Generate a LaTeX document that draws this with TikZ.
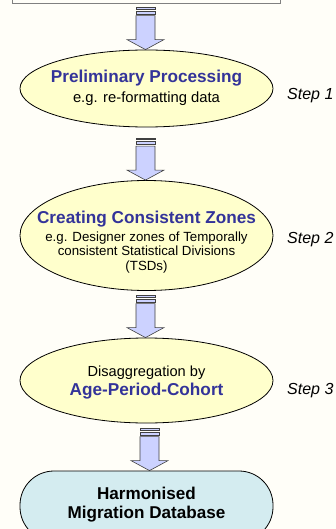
\documentclass[tikz,border=0pt]{standalone}
\usepackage{fontspec}
\setmainfont{Liberation Sans}
\usetikzlibrary{shapes.geometric, calc}
\definecolor{titleblue}{RGB}{51,51,153}
\definecolor{stageyellow}{RGB}{255,255,204}
\definecolor{arrowblue}{RGB}{204,210,255}
\definecolor{dbcyan}{RGB}{212,236,240}
\definecolor{pagecream}{RGB}{255,254,248}

\begin{document}
\begin{tikzpicture}[x=1pt, y=-1pt,
  stage/.style={draw, ellipse, fill=stageyellow, line width=0.8pt, minimum width=253pt, inner sep=0pt},
  srcbox/.style={draw=gray, line width=0.8pt, minimum width=268pt, minimum height=30pt, inner sep=0pt},
  dbbox/.style={draw, fill=dbcyan, line width=0.8pt, rounded corners=34pt, minimum width=253pt, minimum height=70pt, inner sep=0pt},
  title/.style={anchor=base, inner sep=0pt, font=\fontsize{17.2}{20}\selectfont\bfseries, text=titleblue},
  note/.style={anchor=base, inner sep=0pt},
  steplabel/.style={anchor=base west, inner sep=0pt, font=\fontsize{16}{19}\selectfont\itshape},
  arrowline/.style={draw=black!75, fill=arrowblue, line width=0.6pt, line join=miter},
  stripearrow/.pic={
    \draw[arrowline] (-9.5,-42) rectangle (9.5,-40.3);
    \draw[arrowline] (-9.5,-38.7) rectangle (9.5,-35.5);
    \draw[arrowline] (-9.5,-34) -- (-9.5,-10) -- (-18.5,-10) -- (0,0)
      -- (18.5,-10) -- (9.5,-10) -- (9.5,-34) -- cycle;
  },
]
\clip (0,0) rectangle (336,529);
\fill[pagecream] (0,0) rectangle (336,529);

% Source box (cut off at the top)
\node[srcbox] (src) at (146,-12) {};

% Stages
\node[stage, minimum height=77pt] (prep) at (146.5,88.5) {};
\node[stage, minimum height=110pt] (zones) at (146.5,235.5) {};
\node[stage, minimum height=85pt] (apc) at (146.5,380.5) {};
\node[dbbox] (db) at (146.5,506) {};

% Stage texts
\node[title] (prep-title) at (146.5,83) {Preliminary Processing};
\node[note, font=\fontsize{14.8}{17}\selectfont] (prep-note) at (146.5,103) {e.g. re-formatting data};

\node[title] (zones-title) at (146.5,223.3) {Creating Consistent Zones};
\node[note, font=\fontsize{13.3}{15}\selectfont] (zones-note1) at (146.5,241.3) {e.g. Designer zones of Temporally};
\node[note, font=\fontsize{13.3}{15}\selectfont] (zones-note2) at (146.5,255.8) {consistent Statistical Divisions};
\node[note, font=\fontsize{13.3}{15}\selectfont] (zones-note3) at (146.5,270.3) {(TSDs)};

\node[note, font=\fontsize{14.6}{17}\selectfont] (apc-note) at (146.5,376.7) {Disaggregation by};
\node[title] (apc-title) at (146.5,395) {Age-Period-Cohort};

\node[note, font=\fontsize{17.1}{20}\selectfont\bfseries] (db-title1) at (146.5,499) {Harmonised};
\node[note, font=\fontsize{17.1}{20}\selectfont\bfseries] (db-title2) at (146.5,518) {Migration Database};

% Step labels
\node[steplabel] (step1) at (287,100) {Step 1};
\node[steplabel] (step2) at (287,243) {Step 2};
\node[steplabel] (step3) at (287,394) {Step 3};

% Arrows between stages
\pic at ([xshift=-1pt]prep.north) {stripearrow};
\pic at ([xshift=-1pt]zones.north) {stripearrow};
\pic at ([xshift=-1pt]apc.north) {stripearrow};
\pic at ([xshift=3pt]db.north) {stripearrow};
\end{tikzpicture}
\end{document}
